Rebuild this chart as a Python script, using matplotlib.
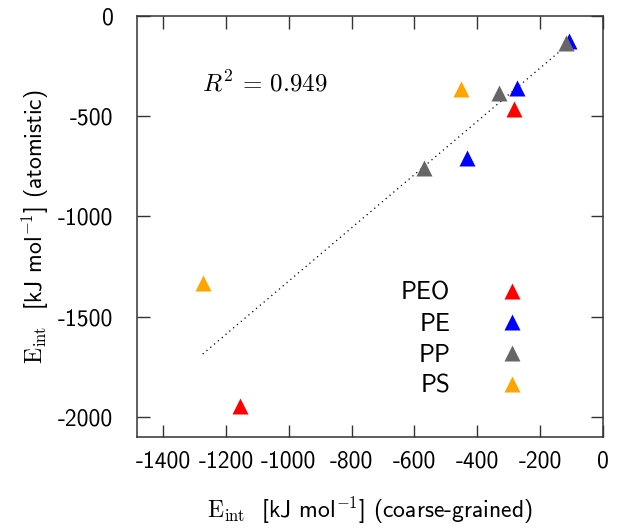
import numpy as np
import matplotlib
matplotlib.use("Agg")
import matplotlib.pyplot as plt

plt.rcParams['font.family'] = ['cmss10', 'DejaVu Sans']
plt.rcParams['mathtext.fontset'] = 'cm'
plt.rcParams['axes.unicode_minus'] = False
plt.rcParams['axes.formatter.use_mathtext'] = False

labels = ["PEO", "PE", "PP", "PS"]
colors = ["#ff0000", "#0000ff", "#666666", "#ffa500"]
cg = {
    "PEO": [-283, -1155],
    "PE": [-108, -275, -434],
    "PP": [-118, -331, -570],
    "PS": [-452, -1274],
}
at = {
    "PEO": [-466, -1945],
    "PE": [-126, -358, -707],
    "PP": [-137, -383, -757],
    "PS": [-366, -1334],
}
r2_text = r"$R^2\,=\,0.949$"
xticks = [-1400, -1200, -1000, -800, -600, -400, -200, 0]
yticks = [0, -500, -1000, -1500, -2000]

fig = plt.figure(figsize=(6.24, 5.29), dpi=100)
ax = fig.add_axes([137/624, 1-437/529, 466/624, 421/529])

allx = np.concatenate([cg[k] for k in labels])
ally = np.concatenate([at[k] for k in labels])
a, b = np.polyfit(allx, ally, 1)
xf = np.array([allx.min(), allx.max()])
ax.plot(xf, a*xf + b, color='black', lw=0.9, linestyle=(0, (1, 3)))

for lab, c in zip(labels, colors):
    ax.plot(cg[lab], at[lab], linestyle='none', marker='^', ms=11,
            color=c, mec='none', label=lab)

ax.set_xlim(-1483, 0)
ax.set_ylim(-2100, 0)
ax.set_xticks(xticks)
ax.set_yticks(yticks)
ax.tick_params(direction='in', length=9, width=1, top=True, right=True,
               labelsize=17, color='#333333')
ax.tick_params(axis='y', pad=17)
ax.tick_params(axis='x', pad=10)
for s in ax.spines.values():
    s.set_linewidth(1.1)
    s.set_color('#333333')

ax.text(0.14, 0.84, r2_text, transform=ax.transAxes, fontsize=18,
        ha='left', va='center')

ax.set_xlabel(r"$\mathrm{E}_{\mathrm{int}}$  [kJ mol$^{\mathsf{-1}}$] (coarse-grained)", fontsize=17, labelpad=16)
ax.set_ylabel(r"$\mathrm{E}_{\mathrm{int}}$  [kJ mol$^{\mathsf{-1}}$] (atomistic)", fontsize=17, labelpad=5)

leg = ax.legend(loc='lower right', bbox_to_anchor=(0.8305, 0.093),
                frameon=False, markerfirst=False, fontsize=18,
                handlelength=1.0, handletextpad=1.95, labelspacing=0.32,
                borderpad=0, borderaxespad=0)

fig.savefig("out.png", dpi=100)
